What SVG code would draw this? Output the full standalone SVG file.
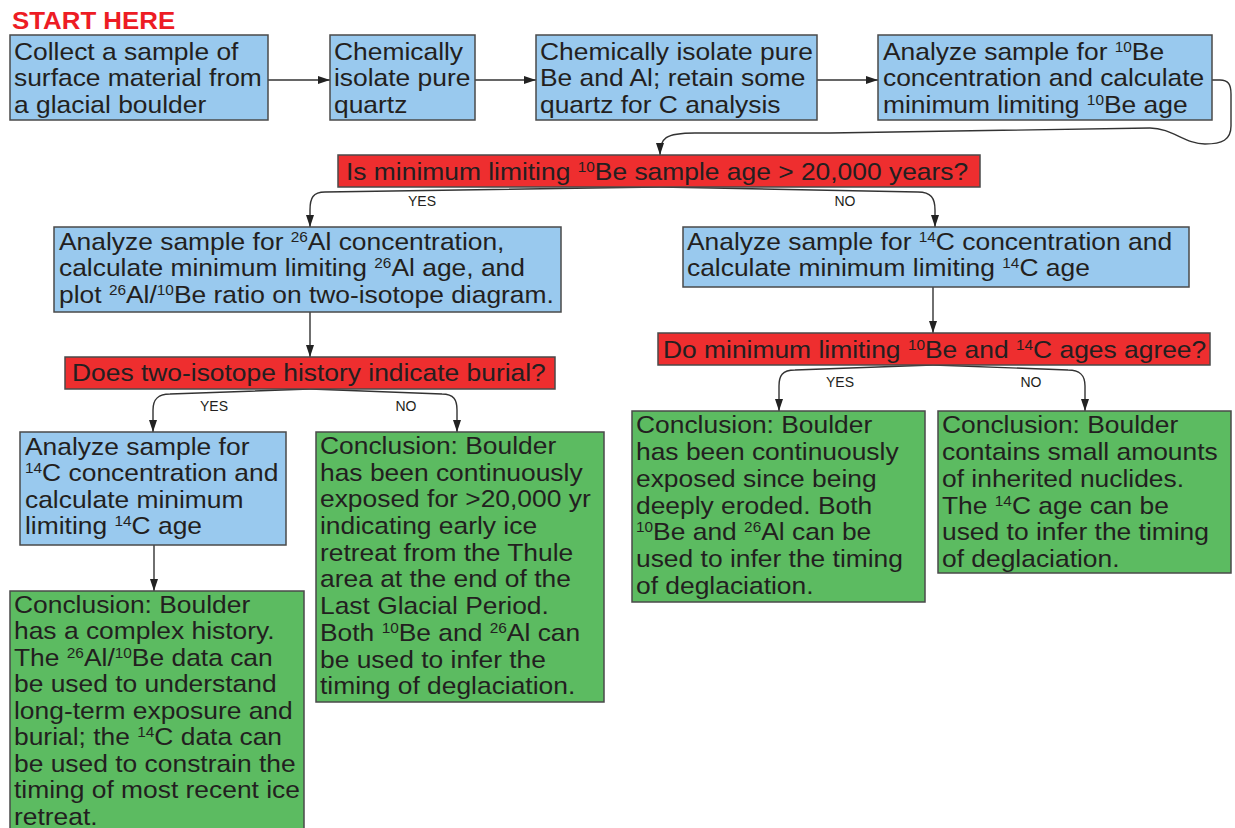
<svg xmlns="http://www.w3.org/2000/svg" width="1235" height="828" viewBox="0 0 1235 828">
<style>
.box{stroke:#4a4a4a;stroke-width:1.5}
.blue{fill:#99C9EE}
.red{fill:#EE2E2F}
.green{fill:#5CBB61}
.t{font-family:"Liberation Sans",Arial,Helvetica,sans-serif;font-size:24px;fill:#231f20}
.s{font-size:14px}
.lbl{font-family:"Liberation Sans",Arial,Helvetica,sans-serif;font-size:14px;fill:#231f20;text-anchor:middle}
.conn{fill:none;stroke:#333;stroke-width:1.4}
.start{font-family:"Liberation Sans",Arial,Helvetica,sans-serif;font-size:23.5px;font-weight:bold;fill:#ED1C24}
</style>
<defs>
<marker id="ah" markerUnits="userSpaceOnUse" markerWidth="12" markerHeight="9" refX="12" refY="4" orient="auto">
<path d="M0,0 L12,4 L0,8 z" fill="#222"/>
</marker>
</defs>
<rect width="1235" height="828" fill="#fff"/>

<g id="start"><g transform="translate(12,0) scale(1.1,1)"><text class="start" y="29">START HERE</text></g></g>

<g id="connectors">
<path class="conn" marker-end="url(#ah)" d="M268,80 H330"/>
<path class="conn" marker-end="url(#ah)" d="M475,80 H536"/>
<path class="conn" marker-end="url(#ah)" d="M817,80 H878"/>
<path class="conn" marker-end="url(#ah)" d="M1212,80 H1220 C1228,80 1231,84 1231,94 V126 C1231,140 1222,144 1205,144 C1185,144 1172,128 1150,128 L830,133 L695,133 C665,133 660,138 660,155"/>
<path class="conn" marker-end="url(#ah)" d="M660,187 L325,192 C313,192 310,198 310,210 V227"/>
<path class="conn" marker-end="url(#ah)" d="M660,187 L918,192 C931,192 935,198 935,210 V227"/>
<path class="conn" marker-end="url(#ah)" d="M310,312 V357"/>
<path class="conn" marker-end="url(#ah)" d="M310,389 L170,394 C157,394 153,400 153,410 V432"/>
<path class="conn" marker-end="url(#ah)" d="M310,389 L442,394 C454,394 457,400 457,410 V432"/>
<path class="conn" marker-end="url(#ah)" d="M933,287 V333"/>
<path class="conn" marker-end="url(#ah)" d="M933,365 L795,370 C782,370 779,376 779,386 V411"/>
<path class="conn" marker-end="url(#ah)" d="M933,365 L1068,370 C1081,370 1085,376 1085,386 V411"/>
<path class="conn" marker-end="url(#ah)" d="M154,545 V591"/>
<text class="lbl" x="422" y="206">YES</text>
<text class="lbl" x="845" y="206">NO</text>
<text class="lbl" x="214" y="411">YES</text>
<text class="lbl" x="406" y="411">NO</text>
<text class="lbl" x="840" y="387">YES</text>
<text class="lbl" x="1031" y="387">NO</text>
</g>

<g id="n1"><rect class="box blue" x="10" y="35" width="258" height="85"/>
<g transform="translate(14,0) scale(1.1,1)" class="t"><text y="60">Collect a sample of</text><text y="86.5">surface material from</text><text y="113">a glacial boulder</text></g></g>

<g id="n2"><rect class="box blue" x="330" y="35" width="145" height="85"/>
<g transform="translate(334,0) scale(1.1,1)" class="t"><text y="60">Chemically</text><text y="86.5">isolate pure</text><text y="113">quartz</text></g></g>

<g id="n3"><rect class="box blue" x="536" y="35" width="281" height="85"/>
<g transform="translate(540,0) scale(1.1,1)" class="t"><text y="60">Chemically isolate pure</text><text y="86.5">Be and Al; retain some</text><text y="113">quartz for C analysis</text></g></g>

<g id="n4"><rect class="box blue" x="878" y="35" width="334" height="85"/>
<g transform="translate(883,0) scale(1.1,1)" class="t"><text y="60">Analyze sample for <tspan class="s" dy="-8">10</tspan><tspan dy="8">Be</tspan></text><text y="86.5">concentration and calculate</text><text y="113">minimum limiting <tspan class="s" dy="-8">10</tspan><tspan dy="8">Be age</tspan></text></g></g>

<g id="d1"><rect class="box red" x="338" y="155" width="642" height="32"/>
<g transform="translate(346,0) scale(1.1,1)" class="t"><text y="180">Is minimum limiting <tspan class="s" dy="-8">10</tspan><tspan dy="8">Be sample age &gt; 20,000 years?</tspan></text></g></g>

<g id="n5"><rect class="box blue" x="54" y="227" width="507" height="85"/>
<g transform="translate(59,0) scale(1.1,1)" class="t"><text y="250">Analyze sample for <tspan class="s" dy="-8">26</tspan><tspan dy="8">Al concentration,</tspan></text><text y="276.5">calculate minimum limiting <tspan class="s" dy="-8">26</tspan><tspan dy="8">Al age, and</tspan></text><text y="303">plot <tspan class="s" dy="-8">26</tspan><tspan dy="8">Al/</tspan><tspan class="s" dy="-8">10</tspan><tspan dy="8">Be ratio on two-isotope diagram.</tspan></text></g></g>

<g id="n6"><rect class="box blue" x="683" y="227" width="506" height="60"/>
<g transform="translate(687,0) scale(1.1,1)" class="t"><text y="250">Analyze sample for <tspan class="s" dy="-8">14</tspan><tspan dy="8">C concentration and</tspan></text><text y="276.5">calculate minimum limiting <tspan class="s" dy="-8">14</tspan><tspan dy="8">C age</tspan></text></g></g>

<g id="d2"><rect class="box red" x="65" y="357" width="490" height="32"/>
<g transform="translate(72,0) scale(1.1,1)" class="t"><text y="381">Does two-isotope history indicate burial?</text></g></g>

<g id="d3"><rect class="box red" x="658" y="333" width="552" height="32"/>
<g transform="translate(663,0) scale(1.1,1)" class="t"><text y="358">Do minimum limiting <tspan class="s" dy="-8">10</tspan><tspan dy="8">Be and </tspan><tspan class="s" dy="-8">14</tspan><tspan dy="8">C ages agree?</tspan></text></g></g>

<g id="n7"><rect class="box blue" x="20" y="432" width="266" height="113"/>
<g transform="translate(25,0) scale(1.1,1)" class="t"><text y="455">Analyze sample for</text><text y="481.5"><tspan class="s" dy="-8">14</tspan><tspan dy="8">C concentration and</tspan></text><text y="508">calculate minimum</text><text y="534.5">limiting <tspan class="s" dy="-8">14</tspan><tspan dy="8">C age</tspan></text></g></g>

<g id="c1"><rect class="box green" x="316" y="432" width="288" height="270"/>
<g transform="translate(320,0) scale(1.1,1)" class="t"><text y="454">Conclusion: Boulder</text><text y="480.7">has been continuously</text><text y="507.4">exposed for &gt;20,000 yr</text><text y="534.1">indicating early ice</text><text y="560.8">retreat from the Thule</text><text y="587.5">area at the end of the</text><text y="614.2">Last Glacial Period.</text><text y="640.9">Both <tspan class="s" dy="-8">10</tspan><tspan dy="8">Be and </tspan><tspan class="s" dy="-8">26</tspan><tspan dy="8">Al can</tspan></text><text y="667.6">be used to infer the</text><text y="694.3">timing of deglaciation.</text></g></g>

<g id="c2"><rect class="box green" x="10" y="591" width="294" height="250"/>
<g transform="translate(14,0) scale(1.1,1)" class="t"><text y="613">Conclusion: Boulder</text><text y="639.5">has a complex history.</text><text y="666">The <tspan class="s" dy="-8">26</tspan><tspan dy="8">Al/</tspan><tspan class="s" dy="-8">10</tspan><tspan dy="8">Be data can</tspan></text><text y="692.5">be used to understand</text><text y="719">long-term exposure and</text><text y="745.5">burial; the <tspan class="s" dy="-8">14</tspan><tspan dy="8">C data can</tspan></text><text y="772">be used to constrain the</text><text y="798.5">timing of most recent ice</text><text y="825">retreat.</text></g></g>

<g id="c3"><rect class="box green" x="632" y="411" width="293" height="191"/>
<g transform="translate(636,0) scale(1.1,1)" class="t"><text y="433.5">Conclusion: Boulder</text><text y="460.2">has been continuously</text><text y="486.9">exposed since being</text><text y="513.6">deeply eroded. Both</text><text y="540.3"><tspan class="s" dy="-8">10</tspan><tspan dy="8">Be and </tspan><tspan class="s" dy="-8">26</tspan><tspan dy="8">Al can be</tspan></text><text y="567">used to infer the timing</text><text y="593.7">of deglaciation.</text></g></g>

<g id="c4"><rect class="box green" x="938" y="411" width="293" height="162"/>
<g transform="translate(942,0) scale(1.1,1)" class="t"><text y="433.5">Conclusion: Boulder</text><text y="460.2">contains small amounts</text><text y="486.9">of inherited nuclides.</text><text y="513.6">The <tspan class="s" dy="-8">14</tspan><tspan dy="8">C age can be</tspan></text><text y="540.3">used to infer the timing</text><text y="567">of deglaciation.</text></g></g>
</svg>
